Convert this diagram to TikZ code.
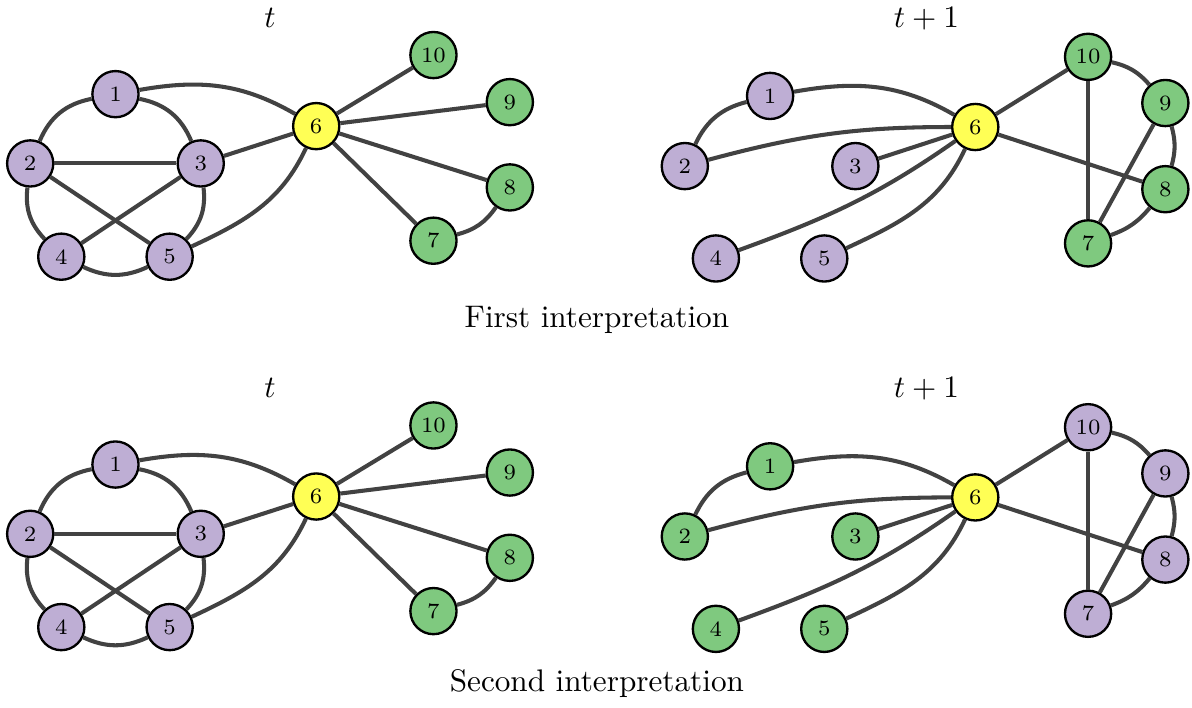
\documentclass[tikz,border=0pt]{standalone}
\usepackage{xcolor}
\usepackage{tikz}
\usetikzlibrary{positioning}
\definecolor{lilac}{HTML}{BEAED4}
\definecolor{leaf}{HTML}{7FC97F}
\definecolor{sun}{HTML}{FFFF55}
\definecolor{wire}{HTML}{424242}

\begin{document}
\begin{tikzpicture}[
    vtx/.style={circle, draw=black, line width=0.75pt, fill=#1, minimum size=0.52cm, inner sep=0pt, font=\scriptsize},
    link/.style={line width=1.3pt, draw=wire},
    stamp/.style={anchor=base}
]
\useasboundingbox (0,0) rectangle (13.42,-7.97);

% first interpretation, time t
\node[stamp] (timeA) at (3.04,-0.31) {$t$};
\node[vtx=lilac] (A1) at (1.30,-1.06) {1};
\node[vtx=lilac] (A2) at (0.34,-1.84) {2};
\node[vtx=lilac] (A3) at (2.26,-1.84) {3};
\node[vtx=lilac] (A4) at (0.69,-2.89) {4};
\node[vtx=lilac] (A5) at (1.91,-2.89) {5};
\node[vtx=sun] (A6) at (3.56,-1.42) {6};
\node[vtx=leaf] (A7) at (4.88,-2.71) {7};
\node[vtx=leaf] (A8) at (5.74,-2.11) {8};
\node[vtx=leaf] (A9) at (5.74,-1.15) {9};
\node[vtx=leaf] (A10) at (4.88,-0.62) {10};
\draw[link] (A1) to[bend right=28] (A2);
\draw[link] (A1) to[bend left=28] (A3);
\draw[link] (A2) -- (A3);
\draw[link] (A2) to[bend right=25] (A4);
\draw[link] (A2) -- (A5);
\draw[link] (A3) -- (A4);
\draw[link] (A3) to[bend left=25] (A5);
\draw[link] (A4) to[bend right=25] (A5);
\draw[link] (A1) to[out=10, in=150] (A6);
\draw[link] (A3) -- (A6);
\draw[link] (A5) to[out=25, in=-115] (A6);
\draw[link] (A6) -- (A10);
\draw[link] (A6) -- (A9);
\draw[link] (A6) -- (A8);
\draw[link] (A6) -- (A7);
\draw[link] (A7) to[bend right=20] (A8);

% first interpretation, time t+1
\node[stamp] (timeB) at (10.43,-0.31) {$t+1$};
\node[vtx=lilac] (B1) at (8.67,-1.08) {1};
\node[vtx=lilac] (B2) at (7.71,-1.87) {2};
\node[vtx=lilac] (B3) at (9.63,-1.87) {3};
\node[vtx=lilac] (B4) at (8.06,-2.91) {4};
\node[vtx=lilac] (B5) at (9.28,-2.91) {5};
\node[vtx=sun] (B6) at (10.98,-1.43) {6};
\node[vtx=leaf] (B7) at (12.25,-2.74) {7};
\node[vtx=leaf] (B8) at (13.12,-2.13) {8};
\node[vtx=leaf] (B9) at (13.12,-1.16) {9};
\node[vtx=leaf] (B10) at (12.25,-0.64) {10};
\draw[link] (B1) to[bend right=25] (B2);
\draw[link] (B1) to[out=10, in=150] (B6);
\draw[link] (B2) to[out=15, in=180] (B6);
\draw[link] (B3) -- (B6);
\draw[link] (B4) to[out=20, in=-145] (B6);
\draw[link] (B5) to[out=25, in=-115] (B6);
\draw[link] (B6) -- (B10);
\draw[link] (B6) -- (B8);
\draw[link] (B10) to[bend left=18] (B9);
\draw[link] (B10) -- (B7);
\draw[link] (B9) to[bend left=15] (B8);
\draw[link] (B9) -- (B7);
\draw[link] (B8) to[bend left=15] (B7);

\node[stamp] (capA) at (6.72,-3.69) {First interpretation};

\begin{scope}[yshift=-4.17cm]
% second interpretation, time t
\node[stamp] (timeC) at (3.04,-0.31) {$t$};
\node[vtx=lilac] (C1) at (1.30,-1.06) {1};
\node[vtx=lilac] (C2) at (0.34,-1.84) {2};
\node[vtx=lilac] (C3) at (2.26,-1.84) {3};
\node[vtx=lilac] (C4) at (0.69,-2.89) {4};
\node[vtx=lilac] (C5) at (1.91,-2.89) {5};
\node[vtx=sun] (C6) at (3.56,-1.42) {6};
\node[vtx=leaf] (C7) at (4.88,-2.71) {7};
\node[vtx=leaf] (C8) at (5.74,-2.11) {8};
\node[vtx=leaf] (C9) at (5.74,-1.15) {9};
\node[vtx=leaf] (C10) at (4.88,-0.62) {10};
\draw[link] (C1) to[bend right=28] (C2);
\draw[link] (C1) to[bend left=28] (C3);
\draw[link] (C2) -- (C3);
\draw[link] (C2) to[bend right=25] (C4);
\draw[link] (C2) -- (C5);
\draw[link] (C3) -- (C4);
\draw[link] (C3) to[bend left=25] (C5);
\draw[link] (C4) to[bend right=25] (C5);
\draw[link] (C1) to[out=10, in=150] (C6);
\draw[link] (C3) -- (C6);
\draw[link] (C5) to[out=25, in=-115] (C6);
\draw[link] (C6) -- (C10);
\draw[link] (C6) -- (C9);
\draw[link] (C6) -- (C8);
\draw[link] (C6) -- (C7);
\draw[link] (C7) to[bend right=20] (C8);

% second interpretation, time t+1
\node[stamp] (timeD) at (10.43,-0.31) {$t+1$};
\node[vtx=leaf] (D1) at (8.67,-1.08) {1};
\node[vtx=leaf] (D2) at (7.71,-1.87) {2};
\node[vtx=leaf] (D3) at (9.63,-1.87) {3};
\node[vtx=leaf] (D4) at (8.06,-2.91) {4};
\node[vtx=leaf] (D5) at (9.28,-2.91) {5};
\node[vtx=sun] (D6) at (10.98,-1.43) {6};
\node[vtx=lilac] (D7) at (12.25,-2.74) {7};
\node[vtx=lilac] (D8) at (13.12,-2.13) {8};
\node[vtx=lilac] (D9) at (13.12,-1.16) {9};
\node[vtx=lilac] (D10) at (12.25,-0.64) {10};
\draw[link] (D1) to[bend right=25] (D2);
\draw[link] (D1) to[out=10, in=150] (D6);
\draw[link] (D2) to[out=15, in=180] (D6);
\draw[link] (D3) -- (D6);
\draw[link] (D4) to[out=20, in=-145] (D6);
\draw[link] (D5) to[out=25, in=-115] (D6);
\draw[link] (D6) -- (D10);
\draw[link] (D6) -- (D8);
\draw[link] (D10) to[bend left=18] (D9);
\draw[link] (D10) -- (D7);
\draw[link] (D9) to[bend left=15] (D8);
\draw[link] (D9) -- (D7);
\draw[link] (D8) to[bend left=15] (D7);
\end{scope}

\node[stamp] (capB) at (6.72,-7.79) {Second interpretation};
\end{tikzpicture}
\end{document}
